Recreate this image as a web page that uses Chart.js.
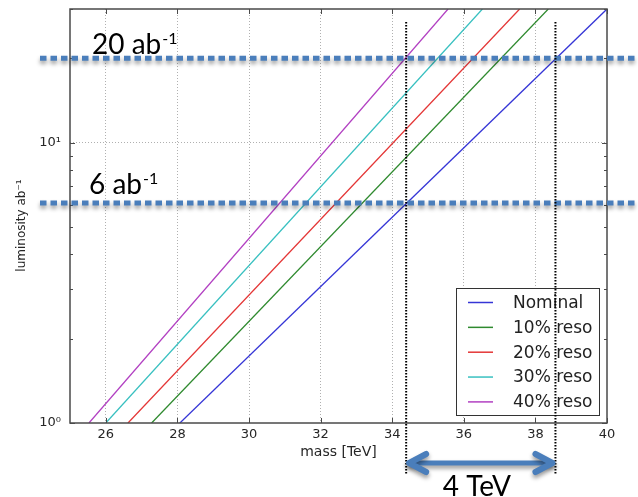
<!DOCTYPE html>
<html>
<head>
<meta charset="utf-8">
<script src="https://cdn.jsdelivr.net/npm/chart.js@4.4.1/dist/chart.umd.min.js"></script>
<style>
    html, body { margin: 0; padding: 0; background: #fff; }
    canvas { display: block; }
</style>
</head>
<body>
<canvas id="myChart" width="638" height="497"></canvas>
<script>
const lumiPoints = [1, 30]
// mass [TeV] reached at those luminosities
const nominal = [28.07, 40.0]
const reso10 = [27.28, 38.36]
const reso20 = [26.62, 37.56]
const reso30 = [26.0, 36.52]
const reso40 = [25.53, 35.56]
const seriesNames = ['Nominal', '10% reso', '20% reso', '30% reso', '40% reso']

const xTicks = [26, 28, 30, 32, 34, 36, 38, 40]
const yTicks = [1, 10]
const yTickLabels = ['10\u2070', '10\u00b9']
const yMinorTicks = [2, 3, 4, 5, 6, 7, 8, 9, 20, 30]

// slide overlay: luminosity targets and the mass window between them
const lumiTargets = [20, 6.1]
const lumiTargetLabels = ['20 ab', '6 ab']
const massWindow = [34.39, 38.56]
const massWindowLabel = '4 TeV'

const colors = ['#3535d6', '#2f8a2f', '#e43636', '#38c0c0', '#b240c2']
const allSeries = [nominal, reso10, reso20, reso30, reso40]

const overlay = {
    id: 'overlay',
    afterDatasetsDraw(chart) {
        const { ctx, chartArea: a, scales: { x, y } } = chart
        ctx.save()

        // axes frame
        ctx.strokeStyle = '#4a4a4a'
        ctx.lineWidth = 1.5
        ctx.strokeRect(a.left, a.top, a.right - a.left, a.bottom - a.top)

        // inward tick marks
        ctx.lineWidth = 1
        ctx.beginPath()
        yMinorTicks.forEach(v => {
            const py = Math.round(y.getPixelForValue(v)) + 0.5
            ctx.moveTo(a.left, py); ctx.lineTo(a.left + 3, py)
            ctx.moveTo(a.right, py); ctx.lineTo(a.right - 3, py)
        })
        yTicks.forEach(v => {
            const py = Math.round(y.getPixelForValue(v)) + 0.5
            ctx.moveTo(a.left, py); ctx.lineTo(a.left + 5, py)
            ctx.moveTo(a.right, py); ctx.lineTo(a.right - 5, py)
        })
        xTicks.forEach(v => {
            const px = Math.round(x.getPixelForValue(v)) + 0.5
            ctx.moveTo(px, a.bottom); ctx.lineTo(px, a.bottom - 5)
            ctx.moveTo(px, a.top); ctx.lineTo(px, a.top + 5)
        })
        ctx.stroke()

        // legend box, lower right
        const lw = 143, lh = 127
        const lx = a.right - 8 - lw, ly = a.bottom - 8 - lh
        ctx.fillStyle = '#fff'
        ctx.fillRect(lx, ly, lw, lh)
        ctx.strokeStyle = '#333'
        ctx.lineWidth = 1
        ctx.strokeRect(lx + 0.5, ly + 0.5, lw, lh)
        ctx.font = '17px "DejaVu Sans"'
        ctx.textBaseline = 'middle'
        ctx.textAlign = 'left'
        chart.data.datasets.forEach((ds, i) => {
            const ry = ly + 14.5 + i * 24.85
            ctx.strokeStyle = ds.borderColor
            ctx.lineWidth = 1.5
            ctx.beginPath()
            ctx.moveTo(lx + 12, ry); ctx.lineTo(lx + 37, ry)
            ctx.stroke()
            ctx.fillStyle = '#222'
            ctx.fillText(ds.label, lx + 57, ry + 1)
        })
        ctx.restore()
    },
    afterDraw(chart) {
        const { ctx, scales: { x, y } } = chart
        const W = chart.width
        ctx.save()
        const blue = '#4a7ebb'

        // thick dashed luminosity lines
        ctx.shadowColor = 'rgba(0,0,0,0.4)'
        ctx.shadowBlur = 4
        ctx.shadowOffsetY = 3
        ctx.strokeStyle = blue
        ctx.lineWidth = 5
        ctx.setLineDash([6.5, 4])
        lumiTargets.forEach(v => {
            const py = y.getPixelForValue(v)
            ctx.beginPath()
            ctx.moveTo(40, py); ctx.lineTo(W, py)
            ctx.stroke()
        })
        ctx.setLineDash([])
        ctx.shadowColor = 'rgba(0,0,0,0)'

        // labels above the lines
        const offs = [4.5, 8.5]
        lumiTargets.forEach((v, i) => {
            const py = y.getPixelForValue(v) - offs[i]
            const px = i === 0 ? 92 : 89
            ctx.fillStyle = '#000'
            ctx.textBaseline = 'alphabetic'
            ctx.textAlign = 'left'
            ctx.font = '28px Lato'
            ctx.fillText(lumiTargetLabels[i], px, py)
            const w = ctx.measureText(lumiTargetLabels[i]).width
            ctx.font = '16px Lato'
            ctx.fillText('-1', px + w + 1, py - 10)
        })

        // vertical dotted lines marking the mass window
        ctx.strokeStyle = '#000'
        ctx.lineWidth = 2
        ctx.setLineDash([1.5, 1.5])
        massWindow.forEach(v => {
            const px = x.getPixelForValue(v)
            ctx.beginPath()
            ctx.moveTo(px, 22); ctx.lineTo(px, 475)
            ctx.stroke()
        })
        ctx.setLineDash([])

        // double headed arrow
        const x0 = x.getPixelForValue(massWindow[0])
        const x1 = x.getPixelForValue(massWindow[1])
        const ay = 463
        ctx.shadowColor = 'rgba(0,0,0,0.4)'
        ctx.shadowBlur = 4
        ctx.shadowOffsetY = 3
        ctx.strokeStyle = blue
        ctx.lineCap = 'round'
        ctx.lineJoin = 'round'
        ctx.lineWidth = 5
        ctx.beginPath()
        ctx.moveTo(x0 + 3, ay); ctx.lineTo(x1 - 3, ay)
        ctx.stroke()
        ctx.lineWidth = 6
        ctx.beginPath()
        ctx.moveTo(x0 + 20, ay - 9); ctx.lineTo(x0 + 3, ay); ctx.lineTo(x0 + 20, ay + 9)
        ctx.moveTo(x1 - 20, ay - 9); ctx.lineTo(x1 - 3, ay); ctx.lineTo(x1 - 20, ay + 9)
        ctx.stroke()
        ctx.shadowColor = 'rgba(0,0,0,0)'

        ctx.fillStyle = '#000'
        ctx.font = '28px Lato'
        ctx.textAlign = 'center'
        ctx.textBaseline = 'alphabetic'
        ctx.fillText(massWindowLabel, (x0 + x1) / 2 - 4, 496)
        ctx.restore()
    }
}

const ctx = document.getElementById('myChart').getContext('2d')
const myChart = new Chart(ctx, {
    type: 'line',
    data: {
        datasets: allSeries.map((s, i) => ({
            label: seriesNames[i],
            data: lumiPoints.map((l, j) => ({ x: s[j], y: l })),
            borderColor: colors[i],
            borderWidth: 1.3,
            pointRadius: 0,
            fill: false,
            tension: 0
        }))
    },
    options: {
        responsive: false,
        animation: false,
        devicePixelRatio: 1,
        layout: { padding: { left: 0, top: 9, right: 31, bottom: 30 } },
        plugins: {
            legend: { display: false },
            tooltip: { enabled: false }
        },
        scales: {
            x: {
                type: 'linear',
                min: 25,
                max: 40,
                afterBuildTicks: scale => { scale.ticks = xTicks.map(v => ({ value: v })) },
                afterFit: scale => {
                    scale.height = 44
                    scale.paddingLeft = 0
                    scale.paddingRight = 0
                },
                ticks: {
                    autoSkip: false,
                    maxRotation: 0,
                    padding: 4,
                    color: '#262626',
                    font: { family: 'DejaVu Sans', size: 13 }
                },
                grid: {
                    drawTicks: false,
                    color: c => (c.tick && c.tick.value < 40) ? '#b0b0b0' : 'rgba(0,0,0,0)'
                },
                border: { display: false, dash: [1, 2] },
                title: {
                    display: true,
                    text: 'mass [TeV]',
                    color: '#262626',
                    font: { family: 'DejaVu Sans', size: 14 },
                    padding: { top: 2, bottom: 6 }
                }
            },
            y: {
                type: 'logarithmic',
                min: 1,
                max: 30,
                afterBuildTicks: scale => { scale.ticks = yTicks.map(v => ({ value: v })) },
                afterFit: scale => {
                    scale.width = 70
                    scale.paddingTop = 0
                    scale.paddingBottom = 0
                },
                ticks: {
                    autoSkip: false,
                    padding: 9,
                    color: '#262626',
                    font: { family: 'DejaVu Sans', size: 13 },
                    callback: v => yTickLabels[yTicks.indexOf(v)] || ''
                },
                grid: {
                    drawTicks: false,
                    color: c => (c.tick && c.tick.value === 10) ? '#b0b0b0' : 'rgba(0,0,0,0)'
                },
                border: { display: false, dash: [1, 2] },
                title: {
                    display: true,
                    text: 'luminosity ab\u207b\u00b9     ',
                    color: '#262626',
                    font: { family: 'DejaVu Sans', size: 12 },
                    padding: { top: 15, bottom: 0 }
                }
            }
        }
    },
    plugins: [overlay]
})
</script>
</body>
</html>
